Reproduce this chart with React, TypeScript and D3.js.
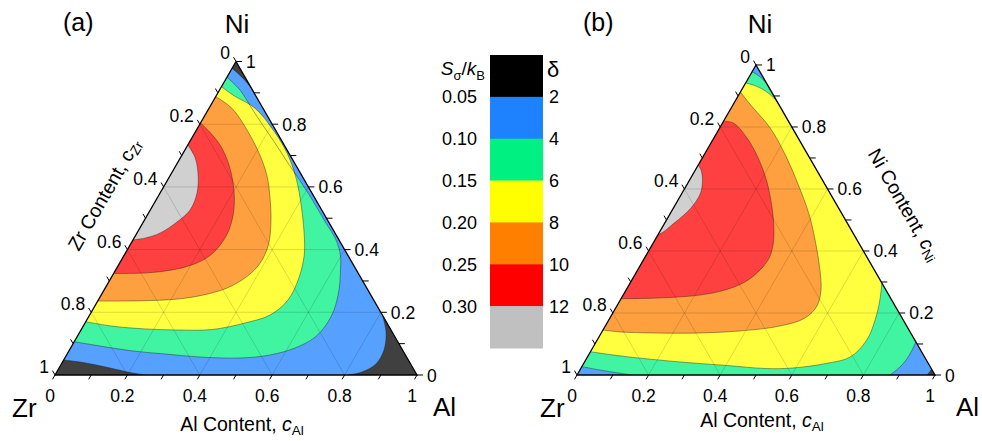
import React from "react";
import * as d3 from "d3";

type TP = [number, number]; // [cAl, cNi]; cZr = 1 - cAl - cNi

// ---------- legend / axes data ----------
const bandColors = ["#000000", "#1e82ff", "#00f082", "#ffff00", "#ff8000", "#ff0000", "#c0c0c0"];
const sigmaTicks = ["0.05", "0.10", "0.15", "0.20", "0.25", "0.30"];
const deltaTicks = ["2", "4", "6", "8", "10", "12"];
const axisTicks = [0, 0.1, 0.2, 0.3, 0.4, 0.5, 0.6, 0.7, 0.8, 0.9, 1];
const axisLabels = [0, 0.2, 0.4, 0.6, 0.8, 1];
const gridValues = [0.2, 0.4, 0.6, 0.8];

// ---------- panel (a) contour boundaries [cAl, cNi] ----------
const aLevel2Top: TP[] = [[0, 0.978], [0.0245, 0.962], [0.051, 0.9426], [0.0845, 0.9155]];
const aLevel2Right: TP[] = [[0.809, 0.191], [0.846, 0.137], [0.869, 0.0797], [0.869, 0.0351], [0.843, 0.0096], [0.809, 0]];
const aLevel2Left: TP[] = [[0.249, 0], [0.203, 0.008], [0.141, 0.0223], [0.0574, 0.0399], [0, 0.0478]];
const aLevel4: TP[] = [[0, 0.95], [0.0565, 0.909], [0.124, 0.845], [0.1715, 0.8006], [0.2274, 0.7496], [0.2952, 0.6858], [0.3644, 0.622], [0.432, 0.5582], [0.496, 0.4944], [0.561, 0.4306], [0.597, 0.3828], [0.6212, 0.3349], [0.649, 0.2711], [0.667, 0.2073], [0.6689, 0.1595], [0.6565, 0.118], [0.6199, 0.0861], [0.562, 0.0638], [0.4839, 0.0542], [0.3719, 0.0574], [0.2704, 0.067], [0.1772, 0.0766], [0.078, 0.0925], [0, 0.1062]];
const aLevel6: TP[] = [[0, 0.92], [0.045, 0.893], [0.127, 0.851], [0.2125, 0.781], [0.287, 0.708], [0.352, 0.628], [0.409, 0.542], [0.46, 0.456], [0.497, 0.383], [0.519, 0.309], [0.524, 0.239], [0.498, 0.191], [0.442, 0.166], [0.361, 0.145], [0.268, 0.1435], [0.175, 0.147], [0.079, 0.156], [0, 0.17]];
const aLevel8: TP[] = [[0, 0.888], [0.063, 0.851], [0.129, 0.792], [0.206, 0.712], [0.266, 0.638], [0.312, 0.564], [0.352, 0.489], [0.382, 0.415], [0.388, 0.356], [0.373, 0.314], [0.336, 0.277], [0.274, 0.253], [0.206, 0.241], [0.13, 0.237], [0.057, 0.236], [0, 0.236]];
const aLevel10: TP[] = [[0, 0.804], [0.04, 0.775], [0.094, 0.729], [0.144, 0.672], [0.186, 0.612], [0.213, 0.565], [0.237, 0.51], [0.25, 0.457], [0.249, 0.415], [0.235, 0.377], [0.202, 0.351], [0.155, 0.335], [0.095, 0.326], [0.031, 0.324], [0, 0.324]];
const aLevel12: TP[] = [[0, 0.734], [0.039, 0.695], [0.073, 0.644], [0.102, 0.581], [0.11, 0.526], [0.093, 0.488], [0.064, 0.453], [0.031, 0.437], [0, 0.431]];

// ---------- panel (b) contour boundaries [cAl, cNi] ----------
const bLevel2: TP[] = [[0.978, 0], [0.98, 0.0097], [0.981, 0.019]];
const bLevel4Top: TP[] = [[0, 0.978], [0.018, 0.969], [0.039, 0.956], [0.058, 0.942]];
const bLevel4Right: TP[] = [[0.893, 0.107], [0.896, 0.0774], [0.895, 0.0484], [0.888, 0.0226], [0.874, 0]];
const bLevel4Left: TP[] = [[0.153, 0], [0.107, 0.0074], [0.056, 0.016], [0, 0.027]];
const bLevel6Top: TP[] = [[0, 0.942], [0.034, 0.932], [0.0785, 0.91], [0.127, 0.874], [0.187, 0.813]];
const bLevel6Bottom: TP[] = [[0.703, 0.297], [0.725, 0.242], [0.744, 0.177], [0.753, 0.113], [0.734, 0.058], [0.679, 0.0377], [0.592, 0.0226], [0.515, 0.021], [0.404, 0.0306], [0.258, 0.0429], [0.11, 0.059], [0.059, 0.066], [0, 0.075]];
const bLevel8: TP[] = [[0, 0.913], [0.022, 0.894], [0.062, 0.861], [0.141, 0.797], [0.226, 0.711], [0.311, 0.614], [0.39, 0.517], [0.4576, 0.42], [0.509, 0.339], [0.5446, 0.274], [0.559, 0.2226], [0.545, 0.184], [0.488, 0.158], [0.384, 0.142], [0.276, 0.1355], [0.15, 0.1355], [0.051, 0.139], [0, 0.145]];
const bLevel10: TP[] = [[0, 0.818], [0.03, 0.813], [0.092, 0.765], [0.156, 0.7], [0.2175, 0.625], [0.269, 0.549], [0.313, 0.474], [0.338, 0.419], [0.348, 0.377], [0.342, 0.339], [0.319, 0.3], [0.276, 0.274], [0.215, 0.258], [0.135, 0.25], [0.067, 0.247], [0, 0.246]];
const bLevel12: TP[] = [[0, 0.677], [0.016, 0.661], [0.036, 0.629], [0.051, 0.59], [0.052, 0.555], [0.042, 0.519], [0.023, 0.484], [0.01, 0.461], [0, 0.452]];

const cornerNi: TP = [0, 1];
const cornerZr: TP = [0, 0];

const FONT = "'Liberation Sans', Arial, Helvetica, sans-serif";
const SQ = Math.sqrt(3) / 2;
const plotColors = bandColors.map((c) => d3.interpolateRgb(c, "#ffffff")(0.25));
const fmt = (v: number) => (v === 0 ? "0" : v === 1 ? "1" : d3.format(".1f")(v));
const TICK_FS = 17.5;
const TITLE_FS = 19.5;

interface Geom { x0: number; x1: number; base: number }

interface PanelProps {
  id: string;
  geom: Geom;
  levels: TP[][][];
  panelLabel: string;
  panelLabelX: number;
  niX: number;
  zrX: number;
  alX: number;
  bottomTitleY: number;
  leftTitle: boolean;
  rightTitle: boolean;
}

function TernaryPanel(p: PanelProps) {
  const { geom } = p;
  const w = geom.x1 - geom.x0;
  const sx = d3.scaleLinear().domain([0, 1]).range([geom.x0, geom.x1]);
  const sy = d3.scaleLinear().domain([0, 1]).range([geom.base, geom.base - w * SQ]);
  const px = (t: TP) => sx(t[0] + t[1] / 2);
  const py = (t: TP) => sy(t[1]);
  const line = d3.line<TP>().x(px).y(py).curve(d3.curveCatmullRom.alpha(0.5));

  const regionPath = (curves: TP[][]) => {
    let d = "";
    curves.forEach((c, i) => {
      const s = c.length === 1 ? `M${px(c[0])},${py(c[0])}` : (line(c) as string);
      d += i === 0 ? s : "L" + s.slice(1);
    });
    return d + "Z";
  };

  const A: TP = [1, 0];
  const N: TP = [0, 1];
  const Z: TP = [0, 0];
  const tri = `M${px(Z)},${py(Z)}L${px(A)},${py(A)}L${px(N)},${py(N)}Z`;

  const grid: [TP, TP][] = [];
  gridValues.forEach((v) => {
    grid.push([[0, v], [1 - v, v]]);
    grid.push([[v, 0], [v, 1 - v]]);
    grid.push([[1 - v, 0], [0, 1 - v]]);
  });

  const tl = 5;
  const midLeft: TP = [0, 0.5];
  const rightT: TP = [0.545, 0.455];

  return (
    <g>
      <defs>
        <clipPath id={`clip-${p.id}`}>
          <path d={tri} />
        </clipPath>
      </defs>
      <g clipPath={`url(#clip-${p.id})`}>
        <path d={tri} fill={plotColors[0]} />
        {p.levels.map((curves, i) => (
          <path key={i} d={regionPath(curves)} fill={plotColors[i + 1]} />
        ))}
        {grid.map((g, i) => (
          <line key={i} x1={px(g[0])} y1={py(g[0])} x2={px(g[1])} y2={py(g[1])} stroke="rgba(0,0,0,0.14)" strokeWidth={1} />
        ))}
        {p.levels.flat().filter((c) => c.length > 1).map((c, i) => (
          <path key={i} d={line(c) as string} fill="none" stroke="rgba(30,30,30,0.6)" strokeWidth={0.7} />
        ))}
      </g>
      <path d={tri} fill="none" stroke="#000" strokeWidth={1.3} strokeLinejoin="miter" />
      {/* bottom axis: cAl */}
      {axisTicks.map((v) => {
        const t: TP = [v, 0];
        const x = px(t), y = py(t);
        return <line key={"b" + v} x1={x} y1={y} x2={x - 0.5 * tl} y2={y + SQ * tl} stroke="#000" strokeWidth={1} />;
      })}
      {axisLabels.map((v) => {
        const t: TP = [v, 0];
        return (
          <text key={"bl" + v} x={px(t) - 5} y={py(t) + 27} fontSize={TICK_FS} textAnchor="middle" fontFamily={FONT}>{fmt(v)}</text>
        );
      })}
      {/* right axis: cNi */}
      {axisTicks.map((v) => {
        const t: TP = [1 - v, v];
        const x = px(t), y = py(t);
        return <line key={"r" + v} x1={x} y1={y} x2={x + tl + 1} y2={y} stroke="#000" strokeWidth={1} />;
      })}
      {axisLabels.map((v) => {
        const t: TP = [1 - v, v];
        return (
          <text key={"rl" + v} x={px(t) + 10} y={py(t) + 6.5} fontSize={TICK_FS} textAnchor="start" fontFamily={FONT}>{fmt(v)}</text>
        );
      })}
      {/* left axis: cZr */}
      {axisTicks.map((v) => {
        const t: TP = [0, 1 - v];
        const x = px(t), y = py(t);
        return <line key={"l" + v} x1={x} y1={y} x2={x - 0.5 * tl} y2={y - SQ * tl} stroke="#000" strokeWidth={1} />;
      })}
      {axisLabels.map((v) => {
        const t: TP = [0, 1 - v];
        return (
          <text key={"ll" + v} x={px(t) - 6} y={py(t) - 2} fontSize={TICK_FS} textAnchor="end" fontFamily={FONT}>{fmt(v)}</text>
        );
      })}
      {/* corner labels */}
      <text x={p.niX} y={33} fontSize={26} textAnchor="middle" fontFamily={FONT}>Ni</text>
      <text x={p.zrX} y={417} fontSize={26} textAnchor="start" fontFamily={FONT}>Zr</text>
      <text x={p.alX} y={416} fontSize={26} textAnchor="start" fontFamily={FONT}>Al</text>
      <text x={p.panelLabelX} y={31} fontSize={25} textAnchor="start" fontFamily={FONT}>{p.panelLabel}</text>
      {/* bottom title */}
      <text x={(geom.x0 + geom.x1) / 2 + 6} y={p.bottomTitleY} fontSize={TITLE_FS} textAnchor="middle" fontFamily={FONT}>
        Al Content, <tspan fontStyle="italic">c</tspan>
        <tspan fontSize={13.5} dy={4}>Al</tspan>
      </text>
      {p.leftTitle && (
        <text
          transform={`translate(${px(midLeft) - 0.866 * 48},${py(midLeft) - 0.5 * 48}) rotate(-60)`}
          fontSize={TITLE_FS}
          textAnchor="middle"
          dominantBaseline="central"
          fontFamily={FONT}
        >
          Zr Content, c<tspan fontSize={13.5} dy={5}>Zr</tspan>
        </text>
      )}
      {p.rightTitle && (
        <text
          transform={`translate(${px(rightT) + 0.866 * 59},${py(rightT) - 0.5 * 59}) rotate(60)`}
          fontSize={TITLE_FS}
          textAnchor="middle"
          dominantBaseline="central"
          fontFamily={FONT}
        >
          Ni Content, <tspan fontStyle="italic">c</tspan>
          <tspan fontSize={13.5} dy={5}>Ni</tspan>
        </text>
      )}
    </g>
  );
}

function Legend() {
  const x = 490, w = 53, top = 55, bottom = 348;
  const bh = (bottom - top) / bandColors.length;
  const yb = d3.scaleLinear().domain([0, bandColors.length]).range([top, bottom]);
  return (
    <g fontFamily={FONT}>
      {bandColors.map((c, i) => (
        <rect key={i} x={x} y={yb(i)} width={w} height={bh + 0.5} fill={c} />
      ))}
      <text x={485} y={75} fontSize={19} textAnchor="end">
        <tspan fontStyle="italic">S</tspan>
        <tspan fontSize={13} dy={5}>σ</tspan>
        <tspan dy={-5}>/</tspan>
        <tspan fontStyle="italic">k</tspan>
        <tspan fontSize={13} dy={5}>B</tspan>
      </text>
      <text x={547} y={77} fontSize={22} textAnchor="start">δ</text>
      {sigmaTicks.map((s, i) => (
        <text key={s} x={477} y={yb(i + 1) + 6.5} fontSize={18} textAnchor="end">{s}</text>
      ))}
      {deltaTicks.map((s, i) => (
        <text key={s} x={549} y={yb(i + 1) + 6.5} fontSize={18} textAnchor="start">{s}</text>
      ))}
    </g>
  );
}

export default function App() {
  const levelsA: TP[][][] = [
    [aLevel2Top, aLevel2Right, aLevel2Left],
    [aLevel4],
    [aLevel6],
    [aLevel8],
    [aLevel10],
    [aLevel12],
  ];
  const levelsB: TP[][][] = [
    [bLevel2, [cornerNi], [cornerZr]],
    [bLevel4Top, bLevel4Right, bLevel4Left],
    [bLevel6Top, bLevel6Bottom],
    [bLevel8],
    [bLevel10],
    [bLevel12],
  ];
  return (
    <svg
      width={982}
      height={441}
      viewBox="0 0 982 441"
      style={{ position: "absolute", left: 0, top: 0, background: "#fff" }}
    >
      <rect x={0} y={0} width={982} height={441} fill="#fff" />
      <TernaryPanel
        id="a"
        geom={{ x0: 55, x1: 417, base: 375 }}
        levels={levelsA}
        panelLabel="(a)"
        panelLabelX={63}
        niX={237}
        zrX={12}
        alX={433}
        bottomTitleY={431}
        leftTitle={true}
        rightTitle={false}
      />
      <TernaryPanel
        id="b"
        geom={{ x0: 577, x1: 935, base: 375 }}
        levels={levelsB}
        panelLabel="(b)"
        panelLabelX={583}
        niX={760}
        zrX={540}
        alX={956}
        bottomTitleY={427}
        leftTitle={false}
        rightTitle={true}
      />
      <Legend />
    </svg>
  );
}
